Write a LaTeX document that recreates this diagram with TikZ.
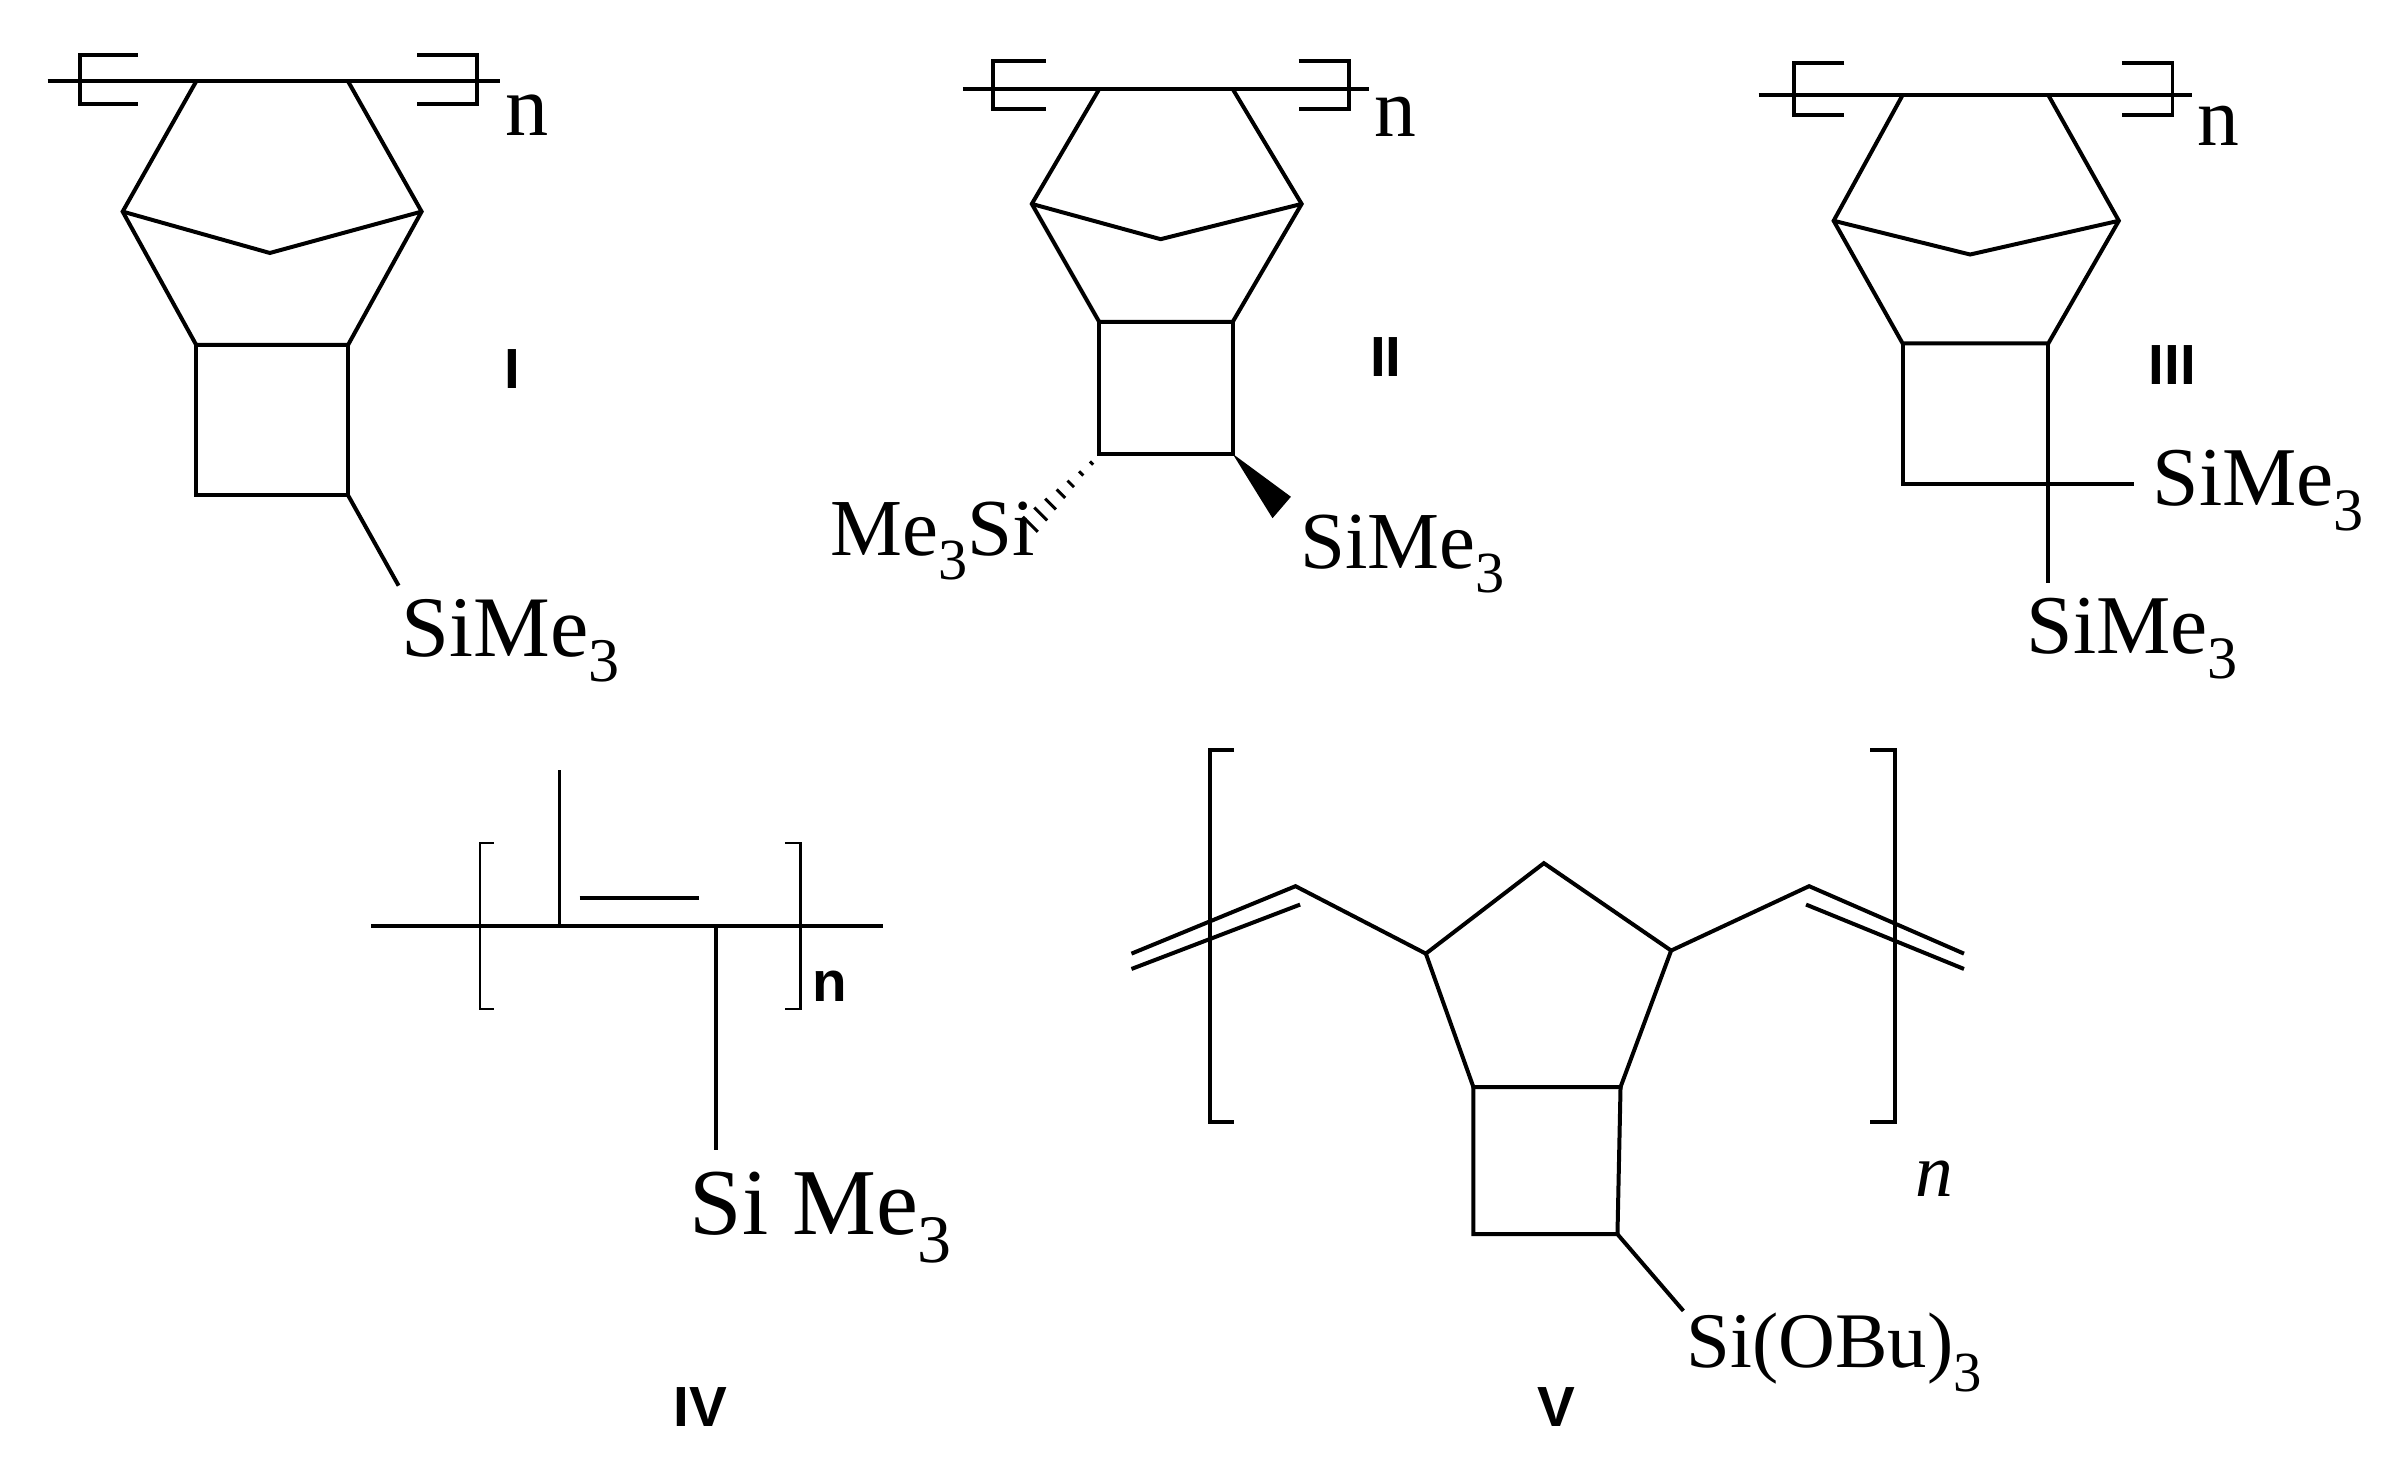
\documentclass[tikz,border=0pt]{standalone}
\usepackage{fontspec}
\usepackage{graphicx}
\setmainfont{Liberation Serif}
\newfontfamily\labelfont{Liberation Sans}
\usetikzlibrary{calc}
\newcommand{\subthree}{\raisebox{-.65ex}{\scalebox{.72}{3}}}
\tikzset{
    bond/.style={draw, line width=0.74pt, line join=miter},
    thinbond/.style={draw, line width=0.45pt},
    formula/.style={anchor=base west, inner sep=0pt, outer sep=0pt},
    tag/.style={anchor=center, inner sep=0pt, font=\labelfont\bfseries\fontsize{10.5}{12}\selectfont},
    rep/.style={anchor=center, inner sep=0pt, font=\fontsize{15.5}{18}\selectfont}
}
\begin{document}
\begin{tikzpicture}[x=0.01cm, y=-0.01cm]
    \useasboundingbox (0,0) rectangle (1568,963);

    % I
    \coordinate (Ia) at (31,53);
    \coordinate (Ib) at (326,53);
    \coordinate (Ic) at (128,53);
    \coordinate (Id) at (227,53);
    \coordinate (Ie) at (80,138);
    \coordinate (If) at (275,138);
    \coordinate (Ig) at (176,165);
    \coordinate (Ih) at (128,225);
    \coordinate (Ii) at (227,225);
    \coordinate (Ij) at (128,323);
    \coordinate (Ik) at (227,323);
    \coordinate (Il) at (260,382);
    \draw[bond] (Ia) -- (Ib);
    \draw[bond] (90,36) -- (52,36) -- (52,68) -- (90,68);
    \draw[bond] (272,36) -- (311,36) -- (311,68) -- (272,68);
    \draw[bond] (Ic) -- (Ie) -- (Ih) -- (Ii) -- (If) -- (Id);
    \draw[bond] (Ie) -- (Ig) -- (If);
    \draw[bond] (Ih) -- (Ij) -- (Ik) -- (Ii);
    \draw[bond] (Ik) -- (Il);
    \node[rep, font=\fontsize{16}{18}\selectfont] (nI) at (344,75) {n};
    \node[tag] (labelI) at (334,241) {I};
    \node[formula, font=\fontsize{16}{18}\selectfont] (siI) at (262,428) {SiMe\subthree};

    % II
    \coordinate (IIa) at (628,58);
    \coordinate (IIb) at (893,58);
    \coordinate (IIc) at (717,58);
    \coordinate (IId) at (804,58);
    \coordinate (IIe) at (673,133);
    \coordinate (IIf) at (849,133);
    \coordinate (IIg) at (757,156);
    \coordinate (IIh) at (717,210);
    \coordinate (IIi) at (804,210);
    \coordinate (IIj) at (717,296);
    \coordinate (IIk) at (804,296);
    \coordinate (IIl) at (836,331);
    \coordinate (IIm) at (712,302);
    \coordinate (IIn) at (672,342);
    \draw[bond] (IIa) -- (IIb);
    \draw[bond] (682,40) -- (648,40) -- (648,71) -- (682,71);
    \draw[bond] (847,40) -- (880,40) -- (880,71) -- (847,71);
    \draw[bond] (IIc) -- (IIe) -- (IIh) -- (IIi) -- (IIf) -- (IId);
    \draw[bond] (IIe) -- (IIg) -- (IIf);
    \draw[bond] (IIh) -- (IIj) -- (IIk) -- (IIi);
    \fill (IIk) -- ($(IIl)+(6,-7)$) -- ($(IIl)+(-6,7)$) -- cycle;
    \foreach \t/\w in {0/1.5, 0.17/2, 0.34/3, 0.5/4, 0.67/5, 0.83/6, 1/7}
        \draw[line width=0.55pt] ($(IIm)!\t!(IIn)+(-\w*0.7,-\w*0.7)$) -- ($(IIm)!\t!(IIn)+(\w*0.7,\w*0.7)$);
    \node[rep] (nII) at (910,76) {n};
    \node[tag] (labelII) at (904,233) {II};
    \node[formula, font=\fontsize{15}{18}\selectfont] (siIIa) at (542,362) {Me\subthree Si};
    \node[formula, font=\fontsize{15}{18}\selectfont] (siIIb) at (848,371) {SiMe\subthree};

    % III
    \coordinate (IIIa) at (1147,62);
    \coordinate (IIIb) at (1430,62);
    \coordinate (IIIc) at (1241,62);
    \coordinate (IIId) at (1336,62);
    \coordinate (IIIe) at (1196,144);
    \coordinate (IIIf) at (1382,144);
    \coordinate (IIIg) at (1285,166);
    \coordinate (IIIh) at (1241,224);
    \coordinate (IIIi) at (1336,224);
    \coordinate (IIIj) at (1241,316);
    \coordinate (IIIk) at (1336,316);
    \coordinate (IIIl) at (1392,316);
    \coordinate (IIIm) at (1336,380);
    \draw[bond] (IIIa) -- (IIIb);
    \draw[bond] (1203,41) -- (1170,41) -- (1170,75) -- (1203,75);
    \draw[bond] (1384,41) -- (1417,41) -- (1417,75) -- (1384,75);
    \draw[bond] (IIIc) -- (IIIe) -- (IIIh) -- (IIIi) -- (IIIf) -- (IIId);
    \draw[bond] (IIIe) -- (IIIg) -- (IIIf);
    \draw[bond] (IIIh) -- (IIIj) -- (IIIk) -- (IIIi);
    \draw[bond] (IIIk) -- (IIIl);
    \draw[bond] (IIIk) -- (IIIm);
    \node[rep] (nIII) at (1447,82) {n};
    \node[tag] (labelIII) at (1417,238) {III};
    \node[formula, font=\fontsize{15.5}{18}\selectfont] (siIIIa) at (1404,330) {SiMe\subthree};
    \node[formula, font=\fontsize{15.5}{18}\selectfont] (siIIIb) at (1322,426) {SiMe\subthree};

    % IV
    \coordinate (IVa) at (242,604);
    \coordinate (IVb) at (576,604);
    \coordinate (IVc) at (365,604);
    \coordinate (IVd) at (365,502);
    \coordinate (IVe) at (378,586);
    \coordinate (IVf) at (456,586);
    \coordinate (IVg) at (467,604);
    \coordinate (IVh) at (467,750);
    \draw[bond] (IVa) -- (IVb);
    \draw[thinbond] (IVc) -- (IVd);
    \draw[bond] (IVe) -- (IVf);
    \draw[bond] (IVg) -- (IVh);
    \draw[thinbond] (322,550) -- (313,550) -- (313,658) -- (322,658);
    \draw[thinbond] (512,550) -- (522,550) -- (522,658) -- (512,658);
    \node[tag, font=\labelfont\bfseries\fontsize{10.5}{12}\selectfont] (nIV) at (541,643) {n};
    \node[tag] (labelIV) at (457,918) {IV};
    \node[formula, font=\fontsize{17.5}{18}\selectfont] (siIV) at (450,805) {Si Me\subthree};

    % V
    \coordinate (Va) at (738,622);
    \coordinate (Vb) at (845,578);
    \coordinate (Vc) at (738,632);
    \coordinate (Vd) at (848,590);
    \coordinate (Ve) at (930,622);
    \coordinate (Vf) at (1007,563);
    \coordinate (Vg) at (1090,620);
    \coordinate (Vh) at (1057,709);
    \coordinate (Vi) at (961,709);
    \coordinate (Vj) at (1055,805);
    \coordinate (Vk) at (961,805);
    \coordinate (Vl) at (1098,855);
    \coordinate (Vm) at (1180,578);
    \coordinate (Vn) at (1281,622);
    \coordinate (Vo) at (1178,590);
    \coordinate (Vp) at (1281,632);
    \draw[bond] (Va) -- (Vb) -- (Ve) -- (Vf) -- (Vg) -- (Vm) -- (Vn);
    \draw[bond] (Vc) -- (Vd);
    \draw[bond] (Vo) -- (Vp);
    \draw[bond] (Ve) -- (Vi) -- (Vh) -- (Vg);
    \draw[bond] (Vi) -- (Vk) -- (Vj) -- (Vh);
    \draw[bond] (Vj) -- (Vl);
    \draw[bond] (805,489) -- (789,489) -- (789,732) -- (805,732);
    \draw[bond] (1220,489) -- (1236,489) -- (1236,732) -- (1220,732);
    \node[rep, font=\itshape\fontsize{14}{18}\selectfont] (nV) at (1262,769) {n};
    \node[tag] (labelV) at (1015,918) {V};
    \node[formula, font=\fontsize{14.6}{18}\selectfont] (siV) at (1100,892) {Si(OBu)\subthree};
\end{tikzpicture}
\end{document}
